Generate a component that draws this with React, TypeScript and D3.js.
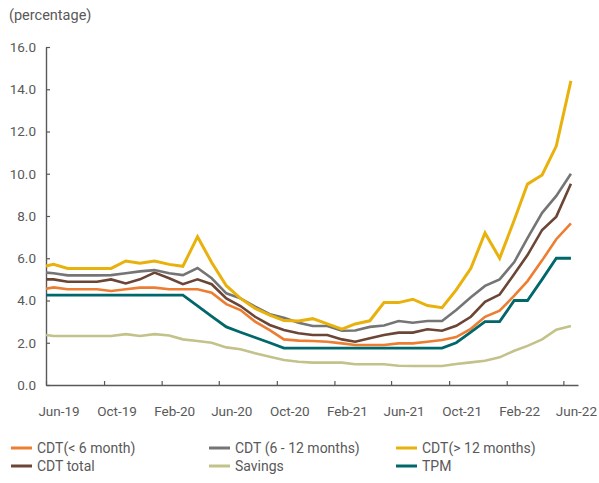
import { useEffect, useRef } from 'react';
import * as d3 from 'd3';

// month-end observations (first one is a mid-month point)
const dates = [
  '2019-05-15', '2019-05-31', '2019-06-30', '2019-07-31', '2019-08-31', '2019-09-30',
  '2019-10-31', '2019-11-30', '2019-12-31', '2020-01-31', '2020-02-29', '2020-03-31',
  '2020-04-30', '2020-05-31', '2020-06-30', '2020-07-31', '2020-08-31', '2020-09-30',
  '2020-10-31', '2020-11-30', '2020-12-31', '2021-01-31', '2021-02-28', '2021-03-31',
  '2021-04-30', '2021-05-31', '2021-06-30', '2021-07-31', '2021-08-31', '2021-09-30',
  '2021-10-31', '2021-11-30', '2021-12-31', '2022-01-31', '2022-02-28', '2022-03-31',
  '2022-04-30', '2022-05-31',
];

const cdtShort = [
  4.56, 4.62, 4.53, 4.53, 4.53, 4.45, 4.53, 4.61, 4.61, 4.53, 4.53, 4.53, 4.37, 3.83,
  3.55, 3.0, 2.6, 2.16, 2.1, 2.08, 2.05, 1.97, 1.89, 1.89, 1.89, 1.97, 1.97, 2.05, 2.13,
  2.27, 2.66, 3.23, 3.52, 4.23, 4.92, 5.9, 6.9, 7.65,
];
const cdtMid = [
  5.32, 5.29, 5.19, 5.19, 5.19, 5.2, 5.29, 5.38, 5.44, 5.29, 5.2, 5.54, 5.05, 4.34,
  4.1, 3.71, 3.35, 3.18, 2.95, 2.79, 2.79, 2.57, 2.58, 2.75, 2.82, 3.03, 2.95, 3.03,
  3.03, 3.55, 4.15, 4.69, 5.0, 5.82, 6.95, 8.15, 8.95, 10.0,
];
const cdtLong = [
  5.63, 5.71, 5.52, 5.52, 5.52, 5.52, 5.87, 5.76, 5.87, 5.71, 5.62, 7.02, 5.8, 4.7,
  4.1, 3.63, 3.31, 3.05, 3.03, 3.14, 2.89, 2.64, 2.89, 3.04, 3.9, 3.9, 4.06, 3.76,
  3.66, 4.5, 5.52, 7.2, 6.0, 7.81, 9.51, 9.94, 11.31, 14.4,
];
const cdtTotal = [
  5.0, 5.0, 4.89, 4.89, 4.89, 5.0, 4.81, 5.0, 5.32, 5.05, 4.77, 5.0, 4.77, 4.1,
  3.74, 3.23, 2.84, 2.6, 2.45, 2.37, 2.37, 2.16, 2.05, 2.21, 2.37, 2.48, 2.48, 2.64,
  2.57, 2.8, 3.23, 3.94, 4.28, 5.25, 6.15, 7.34, 7.97, 9.53,
];
const savings = [
  2.37, 2.32, 2.32, 2.32, 2.32, 2.32, 2.41, 2.32, 2.41, 2.34, 2.16, 2.08, 2.0, 1.78,
  1.69, 1.5, 1.34, 1.18, 1.1, 1.06, 1.06, 1.06, 0.98, 0.98, 0.98, 0.91, 0.9, 0.9,
  0.9, 0.99, 1.07, 1.15, 1.31, 1.62, 1.85, 2.16, 2.62, 2.79,
];
const tpm = [
  4.25, 4.25, 4.25, 4.25, 4.25, 4.25, 4.25, 4.25, 4.25, 4.25, 4.25, 3.75, 3.25, 2.75,
  2.5, 2.25, 2.0, 1.75, 1.75, 1.75, 1.75, 1.75, 1.75, 1.75, 1.75, 1.75, 1.75, 1.75,
  1.75, 2.0, 2.5, 3.0, 3.0, 4.0, 4.0, 5.0, 6.0, 6.0,
];

const tickDates = [
  '2019-05-15', '2019-09-15', '2020-01-15', '2020-05-15', '2020-09-15',
  '2021-01-15', '2021-05-15', '2021-09-15', '2022-01-15', '2022-05-15',
];
const tickLabels = [
  'Jun-19', 'Oct-19', 'Feb-20', 'Jun-20', 'Oct-20',
  'Feb-21', 'Jun-21', 'Oct-21', 'Feb-22', 'Jun-22',
];
const yTicks = [0, 2, 4, 6, 8, 10, 12, 14, 16];

const series = [
  { name: 'CDT(< 6 month)', values: cdtShort, color: '#ED7D31', width: 2.6 },
  { name: 'CDT (6 - 12 months)', values: cdtMid, color: '#757575', width: 2.6 },
  { name: 'CDT(> 12 months)', values: cdtLong, color: '#E9B10C', width: 3 },
  { name: 'CDT total', values: cdtTotal, color: '#6B4536', width: 2.6 },
  { name: 'Savings', values: savings, color: '#C2C28A', width: 2.6 },
  { name: 'TPM', values: tpm, color: '#00676A', width: 2.8 },
];
// order lines are painted in (bottom first)
const drawOrder = ['Savings', 'CDT(< 6 month)', 'TPM', 'CDT total', 'CDT (6 - 12 months)', 'CDT(> 12 months)'];

const W = 599;
const H = 483;
const FONT = 'Roboto, "Noto Sans", sans-serif';
const TEXT = '#595959';

export default function App() {
  const svgRef = useRef<SVGSVGElement>(null);

  useEffect(() => {
    if (!svgRef.current) return;
    const svg = d3.select(svgRef.current);
    svg.selectAll('*').remove();

    const parse = d3.utcParse('%Y-%m-%d');
    const xs = dates.map(d => parse(d) as Date);

    const x = d3
      .scaleUtc()
      .domain([parse('2019-05-15') as Date, parse('2022-06-15') as Date])
      .range([46, 578]);
    const y = d3.scaleLinear().domain([0, 16]).range([385, 47]);

    // y axis
    const yAxis = svg
      .append('g')
      .attr('transform', `translate(${x.range()[0]},0)`)
      .call(
        d3
          .axisLeft(y)
          .tickValues(yTicks)
          .tickFormat(d3.format('.1f'))
          .tickSizeInner(-4)
          .tickSizeOuter(0)
          .tickPadding(10)
      );
    yAxis.select('.domain').attr('stroke', TEXT).attr('stroke-width', 1.4);
    yAxis.selectAll('.tick line').attr('stroke', TEXT).attr('stroke-width', 1.2);
    yAxis
      .selectAll('.tick text')
      .attr('fill', TEXT)
      .attr('font-family', FONT)
      .attr('font-size', 13.5);

    // x axis
    const xAxis = svg
      .append('g')
      .attr('transform', `translate(0,${y(0)})`)
      .call(
        d3
          .axisBottom(x)
          .tickValues(tickDates.map(d => parse(d) as Date))
          .tickFormat((_, i) => tickLabels[i])
          .tickSizeInner(-4)
          .tickSizeOuter(0)
          .tickPadding(21)
      );
    xAxis.select('.domain').attr('stroke', TEXT).attr('stroke-width', 1.4);
    xAxis.selectAll('.tick line').attr('stroke', TEXT).attr('stroke-width', 1.2);
    xAxis
      .selectAll('.tick text')
      .attr('dx', 12.5)
      .attr('fill', TEXT)
      .attr('font-family', FONT)
      .attr('font-size', 13.5);

    // unit label
    svg
      .append('text')
      .attr('x', 9)
      .attr('y', 20)
      .attr('fill', TEXT)
      .attr('font-family', FONT)
      .attr('font-size', 14.5)
      .text('(percentage)');

    // lines
    const line = d3
      .line<number>()
      .x((_, i) => x(xs[i]))
      .y(d => y(d));

    drawOrder.forEach(name => {
      const s = series.find(t => t.name === name)!;
      svg
        .append('path')
        .datum(s.values)
        .attr('fill', 'none')
        .attr('stroke', s.color)
        .attr('stroke-width', s.width)
        .attr('stroke-linejoin', 'miter')
        .attr('d', line);
    });

    // legend: 3 columns x 2 rows
    const colX = [11, 209, 396];
    const rowY = [448, 466];
    const lg = svg.append('g');
    series.forEach((s, i) => {
      const cx = colX[i % 3];
      const cy = rowY[Math.floor(i / 3)];
      lg.append('line')
        .attr('x1', cx)
        .attr('x2', cx + 21)
        .attr('y1', cy)
        .attr('y2', cy)
        .attr('stroke', s.color)
        .attr('stroke-width', 3);
      lg.append('text')
        .attr('x', cx + 26)
        .attr('y', cy)
        .attr('dy', '0.35em')
        .attr('fill', TEXT)
        .attr('font-family', FONT)
        .attr('font-size', 14)
        .text(s.name);
    });
  }, []);

  return (
    <div style={{ position: 'absolute', left: 0, top: 0 }}>
      <svg ref={svgRef} width={W} height={H} style={{ display: 'block', background: '#fff' }} />
    </div>
  );
}
